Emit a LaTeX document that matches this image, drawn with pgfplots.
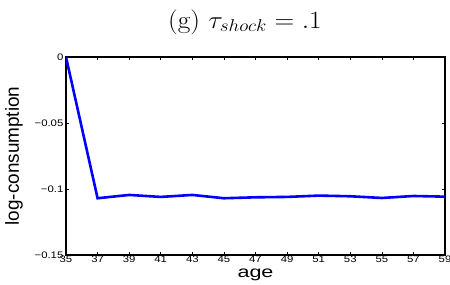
\documentclass[border=0pt]{standalone}
\usepackage{fontspec}
\usepackage{pgfplots}
\pgfplotsset{compat=1.18}
\newfontfamily\hv{Liberation Sans}
\begin{document}
\begin{tikzpicture}
\path[use as bounding box] (-66bp,-30bp) rectangle (384bp,255bp);
\begin{axis}[
  at={(0,0)}, anchor=south west,
  width=379bp, height=198bp, scale only axis,
  xmin=35, xmax=59, ymin=-0.15, ymax=0,
  xtick={35,37,...,59},
  ytick={-0.15,-0.1,-0.05,0},
  yticklabels={−0.15,−0.1,−0.05,0},
  scaled y ticks=false,
  tick align=inside, xtick pos=both, ytick pos=both,
  major tick length=3bp,
  tick style={black, line width=0.6bp},
  axis line style={black, line width=1.3bp},
  /pgf/number format/assume math mode=true,
  xticklabel style={font=\hv\fontsize{9.5}{11}\selectfont, xscale=1.2, inner sep=1bp},
  yticklabel style={font=\hv\fontsize{9.5}{11}\selectfont, xscale=1.2, inner sep=2bp},
  title={\fontsize{25}{28}\selectfont (g) $\tau_{shock} = .1$},
  title style={at={(axis description cs:0.472,1)}, anchor=base, yshift=23bp, xscale=1.1},
  xlabel={\hv\fontsize{16}{19}\selectfont age},
  xlabel style={at={(axis description cs:0.5,-0.116)}, anchor=base, xscale=1.35},
  ylabel={\hv\fontsize{19}{22}\selectfont log-consumption},
  ylabel style={at={(axis description cs:-0.137,0.5)}, anchor=center},
]
\addplot[blue, line width=2.6bp, mark=none] coordinates {
  (35,0) (37,-0.107) (39,-0.1045) (41,-0.106) (43,-0.1045) (45,-0.107)
  (47,-0.1063) (49,-0.106) (51,-0.105) (53,-0.1055) (55,-0.1068) (57,-0.1053) (59,-0.1058)
};
\end{axis}
\end{tikzpicture}
\end{document}
